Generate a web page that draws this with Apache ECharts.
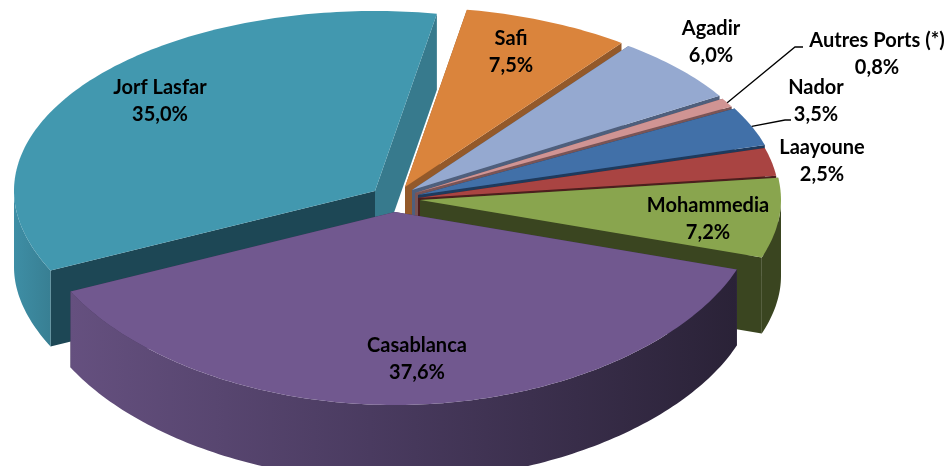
<!DOCTYPE html>
<html>
<head>
<meta charset="utf-8">
<style>html,body{margin:0;padding:0;background:#fff}#c{width:952px;height:466px}</style>
<script src="https://cdn.jsdelivr.net/npm/echarts@6/dist/echarts.min.js"></script>
</head>
<body>
<div id="c"></div>
<script>
// Data
var categories = ['Jorf Lasfar','Safi','Agadir','Autres Ports (*)','Nador','Laayoune','Mohammedia','Casablanca'];
var shares = [35.0,7.5,6.0,0.8,3.5,2.5,7.2,37.6];

// Styling per slice: top face, cut walls, outer wall
var topColors  = ['#4298AF','#DA843C','#95A9D0','#D09493','#4170A8','#A94442','#89A54E','#71588F'];
var wallColors = ['#377A8D','#93592A','#4F5F7C','#7A5455','#1F3A5C','#4C1F1E','#3A4520','#3D3050'];

// Layout of the fake 3D view
var startDeg = -116;
var centre = [414,196];
var radiusX = 361, radiusBack = 180, radiusFront = 172, frontBulge = 21, depth = 76;
var explode = [[-39,-5],[-9,-9],[-2,-6],[1,-3],[4,-1],[4,2],[6,4],[-19,16]];
var labelAt = [[160,101.5],[511,52],[711,42.5],[877,54.5],[816,101],[822,161],[708,219],[417,359]];
var leaderVia = {3:[[795,47],[803,47]],4:[[785,120],[791,120]]};
var fontSpec = 'bold 20px Lato';
var total = shares.reduce(function(a,b){return a+b;},0);

function pt(i,deg,drop){
  var r = deg*Math.PI/180, c = -Math.cos(r);
  var y = c>0 ? radiusFront*c+frontBulge*c*c : radiusBack*c;
  return [centre[0]+explode[i][0]+radiusX*Math.sin(r), centre[1]+explode[i][1]+y+(drop||0)];
}
function apex(i,drop){ return [centre[0]+explode[i][0], centre[1]+explode[i][1]+(drop||0)]; }
function arc(i,a,b,drop){
  var out=[], n=Math.max(2,Math.ceil(Math.abs(b-a)));
  for(var k=0;k<=n;k++) out.push(pt(i,a+(b-a)*k/n,drop));
  return out;
}
function poly(points,fill,z2){
  return {type:'polygon',shape:{points:points},style:{fill:fill},z2:z2||0,silent:true};
}
function outerFill(i){
  if(i===7) return {type:'linear',x:0,y:0,x2:1,y2:0,colorStops:[
    {offset:0,color:'#65507F'},{offset:0.45,color:'#4A3B60'},{offset:1,color:'#2A2237'}]};
  if(i===0) return {type:'linear',x:0,y:0,x2:1,y2:0,colorStops:[
    {offset:0,color:'#3E8EA5'},{offset:1,color:'#387F93'}]};
  return wallColors[i];
}
function renderItem(params,api){
  var i=params.dataIndex, before=0;
  for(var k=0;k<i;k++) before+=shares[k];
  var a=startDeg+before/total*360, b=a+shares[i]/total*360;
  var kids=[];
  var z=i*10;
  // cut walls, front part of the outer wall, top face
  var wallA=[apex(i),pt(i,a),pt(i,a,depth),apex(i,depth)];
  var wallB=[apex(i),pt(i,b),pt(i,b,depth),apex(i,depth)];
  kids.push(poly(wallA,i===0?'#1D4755':wallColors[i],z));
  kids.push(poly(wallB,wallColors[i],z));
  var fa=a<0?a:Math.max(a,90), fb=a<0?Math.min(b,-90):b;
  if(fb>fa) kids.push(poly(arc(i,fa,fb,0).concat(arc(i,fb,fa,depth)),outerFill(i),z+1));
  kids.push(poly([apex(i)].concat(arc(i,a,b,0)),topColors[i],z+2));
  // label
  var pct=api.value(0).toFixed(1).replace('.',',')+'%';
  kids.push({type:'text',z2:200,silent:true,style:{x:labelAt[i][0],y:labelAt[i][1],
    text:categories[i]+'\n'+pct,font:fontSpec,fill:'#000',align:'center',verticalAlign:'middle',lineHeight:27}});
  if(leaderVia[i]){
    var m=pt(i,(a+b)/2);
    kids.push({type:'polyline',z2:190,silent:true,shape:{points:[m].concat(leaderVia[i])},
      style:{stroke:'#000',lineWidth:1.3,fill:null}});
  }
  return {type:'group',children:kids};
}
var chart=echarts.init(document.getElementById('c'),null,{renderer:'canvas'});
chart.setOption({
  animation:false,
  backgroundColor:'#fff',
  series:[{type:'custom',coordinateSystem:'none',renderItem:renderItem,silent:true,
    data:shares.map(function(v,i){return {name:categories[i],value:[v]};})}]
});
</script>
</body>
</html>
